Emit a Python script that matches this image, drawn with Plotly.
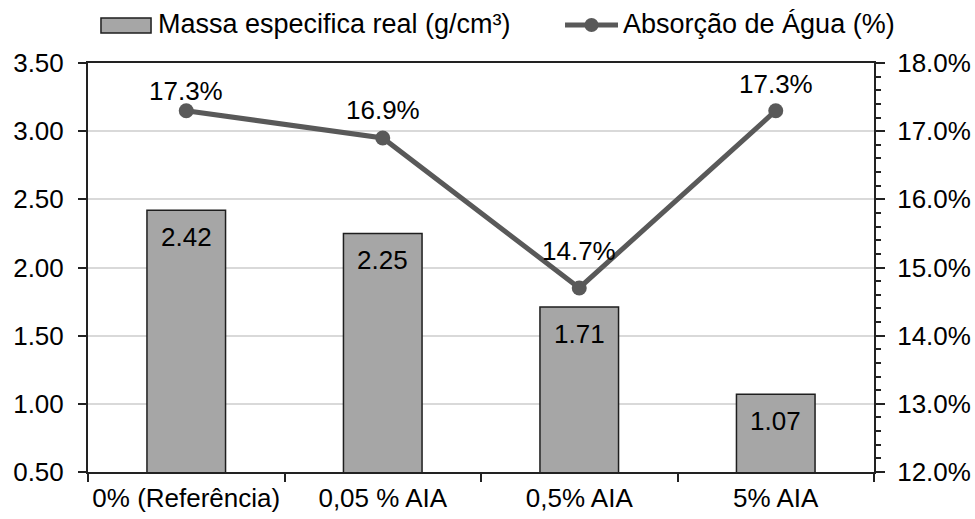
import plotly.graph_objects as go

# Data
categories = ["0% (Referência)", "0,05 % AIA", "0,5% AIA", "5% AIA"]
massa_especifica = [2.42, 2.25, 1.71, 1.07]
absorcao_agua = [17.3, 16.9, 14.7, 17.3]
name_massa = "Massa especifica real (g/cm³)"
name_absorcao = "Absorção de Água (%)"

# Styling
FONT = "Liberation Sans, Arial, sans-serif"
BAR_FILL = "#a6a6a6"
BAR_EDGE = "#1e1e1e"
LINE_COL = "#595959"
AXIS_COL = "#222222"
GRID_COL = "#d9d9d9"
TICK_SIZE = 26
line_label_shift = [20, 28, 37, 27]   # px above each point
bar_label_shift = -27                 # px below bar top

fig = go.Figure()

fig.add_trace(go.Bar(
    x=categories, y=massa_especifica, name=name_massa,
    marker=dict(color=BAR_FILL, line=dict(color=BAR_EDGE, width=1.5)),
    width=0.4, showlegend=False, hoverinfo="skip",
))

fig.add_trace(go.Scatter(
    x=categories, y=absorcao_agua, name=name_absorcao, yaxis="y2",
    mode="lines+markers",
    line=dict(color=LINE_COL, width=5),
    marker=dict(color=LINE_COL, size=15),
    showlegend=False, hoverinfo="skip",
))

annotations = []
for c, v in zip(categories, massa_especifica):
    annotations.append(dict(
        x=c, y=v, xref="x", yref="y", text=f"{v:.2f}", showarrow=False,
        yshift=bar_label_shift, font=dict(family=FONT, size=TICK_SIZE, color="#000"),
    ))
for c, v, s in zip(categories, absorcao_agua, line_label_shift):
    annotations.append(dict(
        x=c, y=v, xref="x", yref="y2", text=f"{v:.1f}%", showarrow=False,
        yshift=s, font=dict(family=FONT, size=TICK_SIZE, color="#000"),
    ))

# Legend drawn above the plot area
annotations += [
    dict(x=0.0865, y=1.0954, xref="paper", yref="paper", text=name_massa,
         showarrow=False, xanchor="left", yanchor="middle",
         font=dict(family=FONT, size=27, color="#000")),
    dict(x=0.6781, y=1.0954, xref="paper", yref="paper", text=name_absorcao,
         showarrow=False, xanchor="left", yanchor="middle",
         font=dict(family=FONT, size=27, color="#000")),
]
shapes = [
    dict(type="rect", xref="paper", yref="paper", x0=0.0165, x1=0.0802,
         y0=1.0733, y1=1.1100, fillcolor=BAR_FILL,
         line=dict(color=BAR_EDGE, width=1.5)),
    dict(type="line", xref="paper", yref="paper", x0=0.6069, x1=0.6743,
         y0=1.0929, y1=1.0929, line=dict(color=LINE_COL, width=5)),
    dict(type="circle", xref="paper", yref="paper",
         xsizemode="pixel", ysizemode="pixel", xanchor=0.6406, yanchor=1.0929,
         x0=-7, x1=7, y0=-7, y1=7, fillcolor=LINE_COL,
         line=dict(color=LINE_COL, width=0)),
]

fig.update_layout(
    width=975, height=519,
    margin=dict(l=88, r=101, t=63, b=47, autoexpand=False),
    paper_bgcolor="white", plot_bgcolor="white",
    font=dict(family=FONT, size=TICK_SIZE, color="#000"),
    bargap=0.6,
    xaxis=dict(
        type="category", showline=True, linecolor=AXIS_COL, linewidth=2,
        mirror=True, ticks="outside", tickson="boundaries", ticklen=8,
        tickcolor=AXIS_COL, tickwidth=1.5, showgrid=False, automargin=False,
        tickangle=0,
        tickfont=dict(family=FONT, size=TICK_SIZE, color="#000"),
        ticklabelstandoff=2,
    ),
    yaxis=dict(
        range=[0.5, 3.5], dtick=0.5, tickformat=".2f",
        showline=True, linecolor=AXIS_COL, linewidth=2, automargin=False,
        ticks="outside", ticklen=8, tickcolor=AXIS_COL, tickwidth=1.5,
        showgrid=True, gridcolor=GRID_COL, gridwidth=1.5, zeroline=False,
        tickfont=dict(family=FONT, size=TICK_SIZE, color="#000"),
        ticklabelstandoff=9,
    ),
    yaxis2=dict(
        range=[12, 18], dtick=1, tickformat=".1f", ticksuffix="%",
        overlaying="y", side="right", automargin=False,
        showline=True, linecolor=AXIS_COL, linewidth=2,
        ticks="outside", ticklen=9, tickcolor=AXIS_COL, tickwidth=1.5,
        minor=dict(dtick=0.2, ticks="outside", ticklen=5,
                   tickcolor=AXIS_COL, tickwidth=1.5, showgrid=False),
        showgrid=False, zeroline=False,
        tickfont=dict(family=FONT, size=TICK_SIZE, color="#000"),
        ticklabelstandoff=7,
    ),
    annotations=annotations,
    shapes=shapes,
)

fig.write_html("out.html")
